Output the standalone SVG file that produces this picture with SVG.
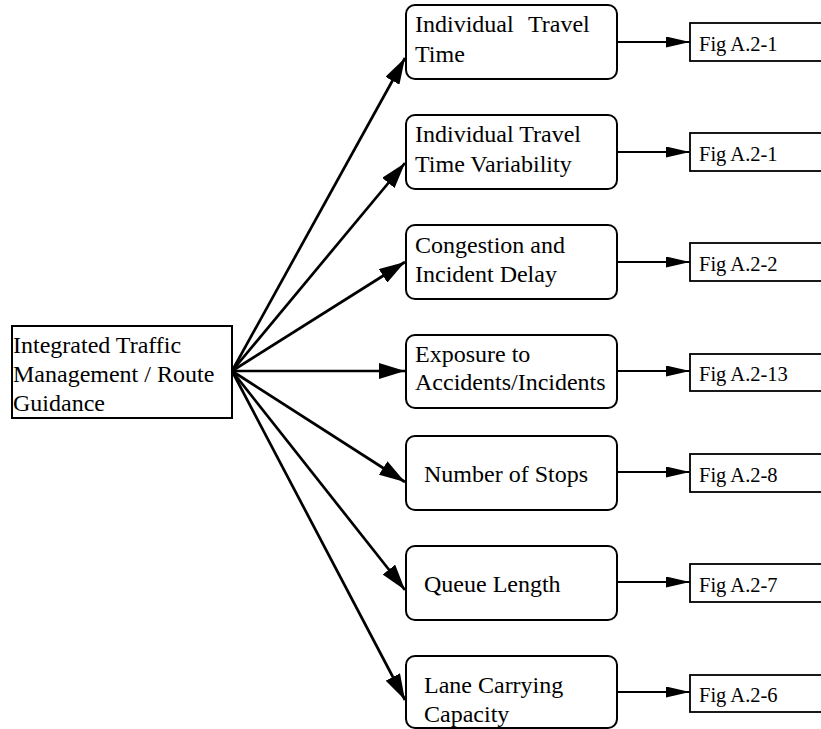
<svg xmlns="http://www.w3.org/2000/svg" width="821" height="729" viewBox="0 0 821 729">
  <style>
    .txt { font-family: "Liberation Serif", "Times New Roman", serif; font-size: 24px; fill: #000; }
    .fig { font-family: "Liberation Serif", "Times New Roman", serif; font-size: 20.5px; fill: #000; }
    .box { fill: #fff; stroke: #000; stroke-width: 2; }
    .ref { fill: #fff; stroke: #000; stroke-width: 1.8; }
    .main { stroke: #000; stroke-width: 2.7; fill: none; marker-end: url(#bigHead); }
    .out { stroke: #000; stroke-width: 2; fill: none; marker-end: url(#smallHead); }
  </style>
  <defs>
    <marker id="bigHead" markerUnits="userSpaceOnUse" markerWidth="26" markerHeight="16" refX="26" refY="8" orient="auto">
      <path d="M0,0 L26,8 L0,16 z" fill="#000"/>
    </marker>
    <marker id="smallHead" markerUnits="userSpaceOnUse" markerWidth="24" markerHeight="11" refX="24" refY="5.5" orient="auto">
      <path d="M0,0 L24,5.5 L0,11 z" fill="#000"/>
    </marker>
  </defs>
  <rect width="821" height="729" fill="#fff"/>

  <g id="connectors">
    <line class="main" x1="232" y1="371" x2="405" y2="58"/>
    <line class="main" x1="232" y1="371" x2="405" y2="163"/>
    <line class="main" x1="232" y1="371" x2="405" y2="262"/>
    <line class="main" x1="232" y1="371" x2="405" y2="371"/>
    <line class="main" x1="232" y1="371" x2="405" y2="482"/>
    <line class="main" x1="232" y1="371" x2="405" y2="590"/>
    <line class="main" x1="232" y1="371" x2="405" y2="700"/>
    <line class="out" x1="617" y1="42" x2="690" y2="42"/>
    <line class="out" x1="617" y1="152" x2="690" y2="152"/>
    <line class="out" x1="617" y1="262" x2="690" y2="262"/>
    <line class="out" x1="617" y1="371" x2="690" y2="371"/>
    <line class="out" x1="617" y1="472" x2="690" y2="472"/>
    <line class="out" x1="617" y1="582" x2="690" y2="582"/>
    <line class="out" x1="617" y1="692" x2="690" y2="692"/>
  </g>

  <g id="itm-route-guidance">
    <rect x="12" y="326" width="220" height="92" fill="#fff" stroke="#000" stroke-width="2"/>
    <text class="txt" x="13" y="353">Integrated Traffic</text>
    <text class="txt" x="13" y="382">Management / Route</text>
    <text class="txt" x="13" y="411">Guidance</text>
  </g>

  <g id="travel-time">
    <rect class="box" x="406" y="5" width="211" height="74" rx="9"/>
    <text class="txt" x="415" y="32">Individual</text>
    <text class="txt" x="528" y="32">Travel</text>
    <text class="txt" x="415" y="62">Time</text>
  </g>
  <g id="travel-time-variability">
    <rect class="box" x="406" y="115" width="211" height="74" rx="9"/>
    <text class="txt" x="415" y="142">Individual Travel</text>
    <text class="txt" x="415" y="172">Time Variability</text>
  </g>
  <g id="congestion-delay">
    <rect class="box" x="406" y="225" width="211" height="74" rx="9"/>
    <text class="txt" x="415" y="253">Congestion and</text>
    <text class="txt" x="415" y="282">Incident Delay</text>
  </g>
  <g id="exposure">
    <rect class="box" x="406" y="335" width="211" height="73" rx="9"/>
    <text class="txt" x="415" y="362">Exposure to</text>
    <text class="txt" x="415" y="390">Accidents/Incidents</text>
  </g>
  <g id="number-of-stops">
    <rect class="box" x="406" y="436" width="211" height="74" rx="9"/>
    <text class="txt" x="424" y="482">Number of Stops</text>
  </g>
  <g id="queue-length">
    <rect class="box" x="406" y="546" width="211" height="74" rx="9"/>
    <text class="txt" x="424" y="592">Queue Length</text>
  </g>
  <g id="lane-capacity">
    <rect class="box" x="406" y="656" width="211" height="72" rx="9"/>
    <text class="txt" x="424" y="693">Lane Carrying</text>
    <text class="txt" x="424" y="722">Capacity</text>
  </g>

  <g id="fig-a2-1a">
    <rect class="ref" x="690" y="23" width="140" height="38"/>
    <text class="fig" x="699" y="51">Fig A.2-1</text>
  </g>
  <g id="fig-a2-1b">
    <rect class="ref" x="690" y="133" width="140" height="38"/>
    <text class="fig" x="699" y="161">Fig A.2-1</text>
  </g>
  <g id="fig-a2-2">
    <rect class="ref" x="690" y="243" width="140" height="38"/>
    <text class="fig" x="699" y="271">Fig A.2-2</text>
  </g>
  <g id="fig-a2-13">
    <rect class="ref" x="690" y="354" width="140" height="37"/>
    <text class="fig" x="699" y="381">Fig A.2-13</text>
  </g>
  <g id="fig-a2-8">
    <rect class="ref" x="690" y="454" width="140" height="38"/>
    <text class="fig" x="699" y="482">Fig A.2-8</text>
  </g>
  <g id="fig-a2-7">
    <rect class="ref" x="690" y="564" width="140" height="38"/>
    <text class="fig" x="699" y="592">Fig A.2-7</text>
  </g>
  <g id="fig-a2-6">
    <rect class="ref" x="690" y="675" width="140" height="37"/>
    <text class="fig" x="699" y="702">Fig A.2-6</text>
  </g>
</svg>
